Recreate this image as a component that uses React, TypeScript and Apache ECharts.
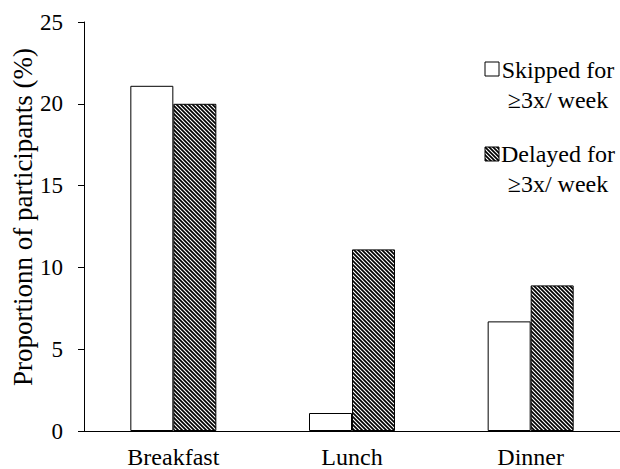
import React, { useEffect, useRef } from "react";
import * as echarts from "echarts";

const categories = ["Breakfast", "Lunch", "Dinner"];
const skipped = [21.1, 1.1, 6.7];
const delayed = [20.0, 11.1, 8.9];
const seriesNames = ["Skipped for\n≥3x/ week", "Delayed for\n≥3x/ week"];
const yTicks = { min: 0, max: 25, interval: 5 };
const yTitle = "Proportionn of participants (%)";

function makeHatch(): string {
  const c = document.createElement("canvas");
  c.width = 4;
  c.height = 4;
  const ctx = c.getContext("2d")!;
  ctx.fillStyle = "#fff";
  ctx.fillRect(0, 0, 4, 4);
  ctx.strokeStyle = "#000";
  ctx.lineWidth = 1.7;
  ctx.beginPath();
  ctx.moveTo(-1, -1);
  ctx.lineTo(5, 5);
  ctx.moveTo(-1, 3);
  ctx.lineTo(1, 5);
  ctx.moveTo(3, -1);
  ctx.lineTo(5, 1);
  ctx.stroke();
  return c.toDataURL();
}

export default function App() {
  const ref = useRef<HTMLDivElement>(null);
  useEffect(() => {
    document.body.style.margin = "0";
    if (!ref.current) return;
    const chart = echarts.init(ref.current, undefined, { renderer: "svg" });
    const hatch = { image: makeHatch(), repeat: "repeat" } as any;
    const font = "Liberation Serif";
    chart.setOption({
      animation: false,
      backgroundColor: "#fff",
      textStyle: { fontFamily: font },
      grid: {
        left: 84,
        right: 0,
        top: 22,
        bottom: 38,
        containLabel: false,
        outerBoundsMode: "none",
      },
      xAxis: {
        type: "category",
        data: categories,
        axisLine: { lineStyle: { color: "#000", width: 1 } },
        axisTick: { show: false },
        axisLabel: { color: "#000", fontSize: 24, fontFamily: font, margin: 14 },
      },
      yAxis: {
        type: "value",
        min: yTicks.min,
        max: yTicks.max,
        interval: yTicks.interval,
        axisLine: { show: true, lineStyle: { color: "#000", width: 1 } },
        axisTick: { show: true, length: 6, lineStyle: { color: "#000" } },
        splitLine: { show: false },
        axisLabel: { color: "#000", fontSize: 23, fontFamily: font, margin: 21 },
      },
      series: [
        {
          name: seriesNames[0],
          type: "bar",
          data: skipped,
          barWidth: 43,
          barGap: "0%",
          itemStyle: { color: "#fff", borderColor: "#000", borderWidth: 1 },
        },
        {
          name: seriesNames[1],
          type: "bar",
          data: delayed,
          barWidth: 43,
          barGap: "0%",
          itemStyle: { color: hatch, borderColor: "#000", borderWidth: 1 },
        },
      ],
      graphic: [
        {
          type: "text",
          x: 23,
          y: 217,
          rotation: Math.PI / 2,
          style: {
            text: yTitle,
            fill: "#000",
            fontFamily: font,
            fontSize: 27,
            textAlign: "center",
            textVerticalAlign: "middle",
          },
        },
        {
          type: "rect",
          x: 485,
          y: 62,
          shape: { width: 14, height: 14 },
          style: { fill: "#fff", stroke: "#000", lineWidth: 1 },
        },
        {
          type: "text",
          x: 558,
          y: 55,
          style: {
            text: seriesNames[0],
            fill: "#000",
            fontFamily: font,
            fontSize: 24,
            textAlign: "center",
            lineHeight: 30,
          },
        },
        {
          type: "rect",
          x: 485,
          y: 147,
          shape: { width: 14, height: 14 },
          style: { fill: hatch, stroke: "#000", lineWidth: 1 },
        },
        {
          type: "text",
          x: 558,
          y: 139,
          style: {
            text: seriesNames[1],
            fill: "#000",
            fontFamily: font,
            fontSize: 24,
            textAlign: "center",
            lineHeight: 30,
          },
        },
      ],
    });
    return () => chart.dispose();
  }, []);
  return <div ref={ref} style={{ width: 620, height: 469 }} />;
}
